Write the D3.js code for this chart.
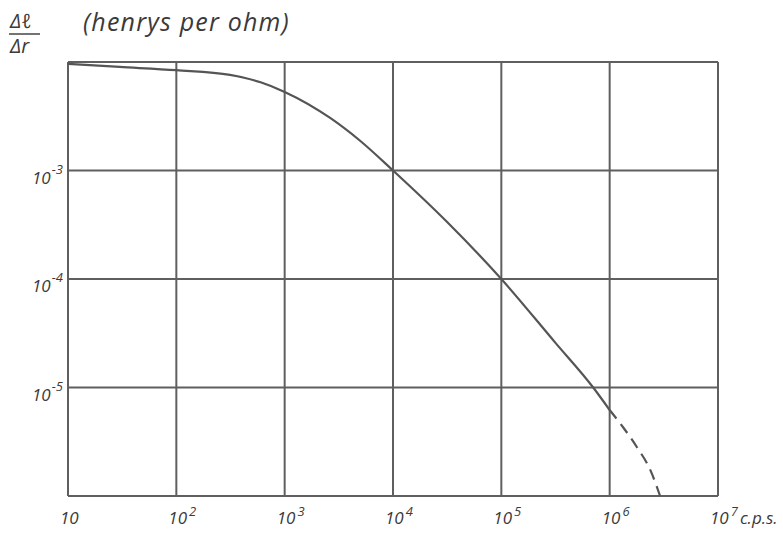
<!DOCTYPE html>
<html>
<head>
<meta charset="utf-8">
<script src="https://cdn.jsdelivr.net/npm/d3@7"></script>
<style>
  body { margin: 0; background: #fff; }
  text { font-family: "Open Sans", sans-serif; font-style: italic; fill: #3a3a3a; }
</style>
</head>
<body>
<svg width="783" height="536"></svg>
<script>
// frequency (c.p.s.) and delta-l / delta-r (henrys per ohm)
const freq = [10, 30, 100, 313, 600, 1000, 2630, 5000, 10000, 31600, 100000, 316000, 705000, 1000000];
const ratio = [0.0096, 0.0090, 0.0084, 0.0076, 0.0065, 0.0053, 0.00305, 0.00187, 0.001, 0.000335, 0.0001, 0.0000258, 0.00001, 0.0000062];
// dashed extrapolated tail
const tailFreq = [1000000, 1330000, 1780000, 2370000, 2920000];
const tailRatio = [0.0000062, 0.0000043, 0.00000283, 0.00000174, 0.000001];

const xExp = [1, 2, 3, 4, 5, 6, 7];
const yExp = [-3, -4, -5];

const margin = { top: 62, right: 65, bottom: 40, left: 68 },
      width = 783 - margin.left - margin.right,
      height = 536 - margin.top - margin.bottom;

const svg = d3.select("svg")
  .append("g")
  .attr("transform", `translate(${margin.left},${margin.top})`);

const x = d3.scaleLog().domain([10, 1e7]).range([0, width]);
const y = d3.scaleLog().domain([1e-6, 1e-2]).range([height, 0]);

// grid
svg.append("g")
  .selectAll("line")
  .data(xExp)
  .enter().append("line")
  .attr("x1", d => x(Math.pow(10, d)))
  .attr("x2", d => x(Math.pow(10, d)))
  .attr("y1", 0)
  .attr("y2", height)
  .attr("stroke", "#5f5f5f")
  .attr("stroke-width", 2);

svg.append("g")
  .selectAll("line")
  .data([-2, -3, -4, -5, -6])
  .enter().append("line")
  .attr("x1", 0)
  .attr("x2", width)
  .attr("y1", d => y(Math.pow(10, d)))
  .attr("y2", d => y(Math.pow(10, d)))
  .attr("stroke", "#5f5f5f")
  .attr("stroke-width", 2);

// curve
const line = d3.line()
  .x(d => x(d[0]))
  .y(d => y(d[1]))
  .curve(d3.curveMonotoneX);

svg.append("path")
  .datum(d3.zip(freq, ratio))
  .attr("d", line)
  .attr("fill", "none")
  .attr("stroke", "#555")
  .attr("stroke-width", 2.2);

svg.append("path")
  .datum(d3.zip(tailFreq, tailRatio))
  .attr("d", line)
  .attr("fill", "none")
  .attr("stroke", "#555")
  .attr("stroke-width", 2.2)
  .attr("stroke-dasharray", "11,7");

// x labels
const xl = svg.append("g").selectAll("text")
  .data(xExp)
  .enter().append("text")
  .attr("x", d => x(Math.pow(10, d)) - 8)
  .attr("y", height + 28)
  .attr("font-size", 17);
xl.append("tspan").text("10");
xl.filter(d => d > 1).append("tspan")
  .attr("dx", 2)
  .attr("dy", -8)
  .attr("font-size", 13)
  .text(d => d);
xl.filter(d => d === 7).append("tspan")
  .attr("dx", 2)
  .attr("dy", 8)
  .attr("font-size", 17)
  .text("c.p.s.");

// y labels
const yl = svg.append("g").selectAll("text")
  .data(yExp)
  .enter().append("text")
  .attr("x", -36)
  .attr("y", d => y(Math.pow(10, d)) + 13)
  .attr("font-size", 17);
yl.append("tspan").text("10");
yl.append("tspan")
  .attr("dx", 1)
  .attr("dy", -10)
  .attr("font-size", 13)
  .text(d => d);

// axis title
const title = d3.select("svg").append("g");
title.append("text").attr("x", 10).attr("y", 28).attr("font-size", 20).text("Δℓ");
title.append("line")
  .attr("x1", 9).attr("x2", 40).attr("y1", 34).attr("y2", 34)
  .attr("stroke", "#444").attr("stroke-width", 1.5);
title.append("text").attr("x", 10).attr("y", 53).attr("font-size", 20).text("Δr");
title.append("text").attr("x", 83).attr("y", 31)
  .attr("font-size", 25)
  .attr("letter-spacing", 1.2)
  .text("(henrys per ohm)");
</script>
</body>
</html>
